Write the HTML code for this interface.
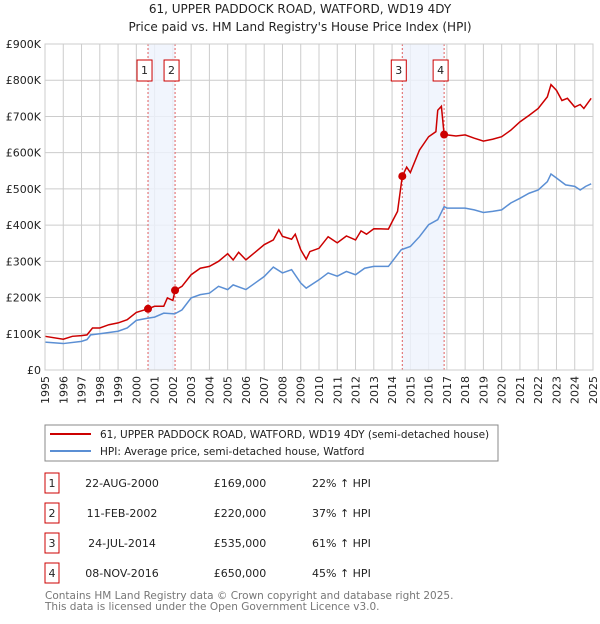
<!DOCTYPE html>
<html><head><meta charset="utf-8"><style>
body{margin:0;background:#fff;font-family:"DejaVu Sans","Liberation Sans",sans-serif;}
svg text{font-family:"DejaVu Sans","Liberation Sans",sans-serif;}
</style></head><body>
<svg id="chart" width="600" height="620" viewBox="0 0 600 620">
<text x="300" y="13" text-anchor="middle" font-size="12" fill="#222">61, UPPER PADDOCK ROAD, WATFORD, WD19 4DY</text>
<text x="300" y="31" text-anchor="middle" font-size="12" fill="#222">Price paid vs. HM Land Registry's House Price Index (HPI)</text>
<g id="grid"></g><g id="bands"></g><g id="series"></g><g id="marks"></g><g id="axes"></g>
<rect x="45" y="425" width="453" height="36" fill="#fff" stroke="#888"/>
<line x1="50" y1="434" x2="91" y2="434" stroke="#cc0000" stroke-width="2"/>
<text x="100" y="438" font-size="10.5" fill="#222">61, UPPER PADDOCK ROAD, WATFORD, WD19 4DY (semi-detached house)</text>
<line x1="50" y1="451" x2="91" y2="451" stroke="#5b8fd4" stroke-width="2"/>
<text x="100" y="455" font-size="10.5" fill="#222">HPI: Average price, semi-detached house, Watford</text>
<g id="table" font-size="11" fill="#222"></g>
<text x="45" y="599" font-size="10.5" fill="#777">Contains HM Land Registry data © Crown copyright and database right 2025.</text>
<text x="45" y="610" font-size="10.5" fill="#777">This data is licensed under the Open Government Licence v3.0.</text>
</svg>
<script>
const yTicks=[0,100,200,300,400,500,600,700,800,900];
const years=[1995,1996,1997,1998,1999,2000,2001,2002,2003,2004,2005,2006,2007,2008,2009,2010,2011,2012,2013,2014,2015,2016,2017,2018,2019,2020,2021,2022,2023,2024,2025];
const hpiT=[1995,1996,1997,1997.3,1997.5,1998,1999,1999.5,2000,2000.6,2001,2001.5,2002.1,2002.5,2003,2003.5,2004,2004.5,2005,2005.3,2006,2006.5,2007,2007.5,2008,2008.5,2009,2009.3,2010,2010.5,2011,2011.5,2012,2012.5,2013,2013.8,2014.5,2015,2015.5,2016,2016.5,2016.85,2017,2017.5,2018,2018.5,2019,2019.5,2020,2020.5,2021,2021.5,2022,2022.5,2022.7,2023,2023.5,2024,2024.3,2024.6,2024.9];
const hpiV=[77,73,79,84,97,100,107,116,137,143,146,157,155,166,199,208,212,231,222,235,222,240,258,284,268,277,240,226,249,268,259,272,263,281,286,286,332,341,368,401,415,451,447,447,447,442,435,438,442,461,474,488,497,520,541,530,511,507,497,507,514];
const redT=[1995,1996,1996.5,1997,1997.3,1997.6,1998,1998.5,1999,1999.5,2000,2000.64,2001,2001.5,2001.7,2002,2002.12,2002.5,2003,2003.5,2004,2004.5,2005,2005.3,2005.6,2006,2006.5,2007,2007.5,2007.8,2008,2008.5,2008.7,2009,2009.3,2009.5,2010,2010.5,2011,2011.5,2012,2012.3,2012.6,2013,2013.8,2014,2014.3,2014.56,2014.8,2015,2015.5,2016,2016.4,2016.5,2016.7,2016.85,2017,2017.5,2018,2018.5,2019,2019.5,2020,2020.5,2021,2021.5,2022,2022.5,2022.7,2023,2023.3,2023.6,2024,2024.3,2024.5,2024.9];
const redV=[93,85,93,95,97,116,116,125,130,139,159,169,176,176,199,192,220,231,263,281,286,300,321,304,325,304,325,346,359,387,369,361,375,332,306,327,336,368,351,370,359,384,375,390,389,409,438,535,560,545,607,644,658,717,728,650,649,646,649,640,632,637,644,662,685,703,722,754,788,772,744,750,726,733,722,750];
const saleT=[2000.64,2002.12,2014.56,2016.85];
const saleV=[169,220,535,650];
const saleLabels=["1","2","3","4"];
const saleDates=["22-AUG-2000","11-FEB-2002","24-JUL-2014","08-NOV-2016"];
const salePrices=["£169,000","£220,000","£535,000","£650,000"];
const saleDiffs=["22% ↑ HPI","37% ↑ HPI","61% ↑ HPI","45% ↑ HPI"];
const X0=45,X1=593,Y0=370,Y1=44;
const x=t=>X0+(t-1995)/30*(X1-X0);
const y=v=>Y0-v/900*(Y0-Y1);
const NS="http://www.w3.org/2000/svg";
function mk(tag,attrs,parent,txt){const e=document.createElementNS(NS,tag);for(const k in attrs)e.setAttribute(k,attrs[k]);if(txt!=null)e.textContent=txt;document.getElementById(parent).appendChild(e);return e;}
yTicks.forEach(v=>{
 const l=mk('line',{x1:X0,x2:X1,y1:y(v),y2:y(v),stroke:'#ccc','stroke-width':1},'grid');
 
 
 const t=mk('text',{x:41,y:y(v)+4,'text-anchor':'end','font-size':11,fill:'#222'},'axes',v===0?'£0':'£'+v+'K');
 
 
});
years.forEach(yr=>{
 const l=mk('line',{x1:x(yr),x2:x(yr),y1:Y1,y2:Y0,stroke:'#ccc','stroke-width':1},'grid');
 
 
 const t=mk('text',{x:0,y:0,'text-anchor':'end','font-size':11,fill:'#222',transform:`translate(${x(yr)+4},${Y0+6}) rotate(-90)`},'axes',String(yr));
 
 
});
const fr=mk('rect',{x:X0,y:Y1,width:X1-X0,height:Y0-Y1,fill:'none',stroke:'#ccc'},'axes');


[[0,1],[2,3]].forEach(([a,b])=>{
 const r=mk('rect',{x:x(saleT[a]),y:Y1,width:x(saleT[b])-x(saleT[a]),height:Y0-Y1,fill:'#eef3fc',opacity:0.8},'bands');
 
 
});
saleT.forEach(t=>{
 const l=mk('line',{x1:x(t),x2:x(t),y1:Y1,y2:Y0,stroke:'#e06060','stroke-dasharray':'2,2','stroke-width':1},'bands');
 
 
});
const hp=mk('polyline',{points:hpiT.map((t,i)=>x(t)+','+y(hpiV[i])).join(' '),fill:'none',stroke:'#5b8fd4','stroke-width':1.5},'series');


const rp=mk('polyline',{points:redT.map((t,i)=>x(t)+','+y(redV[i])).join(' '),fill:'none',stroke:'#cc0000','stroke-width':1.5},'series');


saleT.forEach((t,i)=>{
 const c=mk('circle',{cx:x(t),cy:y(saleV[i]),r:4,fill:'#cc0000'},'marks');
 
 
 const b=mk('rect',{x:x(t)-11,y:60,width:15,height:21,fill:'#fff',stroke:'#cc0000'},'marks');
 
 
 const tx=mk('text',{x:x(t)-3.5,y:74,'text-anchor':'middle','font-size':11,fill:'#222'},'marks',saleLabels[i]);
 
 
 const ry=483+i*30;
 const tb=mk('rect',{x:45,y:ry-10,width:14,height:20,fill:'#fff',stroke:'#cc0000'},'table');
 
 
 const cells=[[52,'middle',saleLabels[i],'table-row-number'],[122,'middle',saleDates[i],'table-date'],[240,'middle',salePrices[i],'table-price'],[312,'start',saleDiffs[i],'table-hpi-diff']];
 cells.forEach(([cx,an,s,nm])=>{
  const e=mk('text',{x:cx,y:ry+4,'text-anchor':an,'font-size':11,fill:'#222'},'table',s);
  
  
 });
});
</script>
</body></html>
